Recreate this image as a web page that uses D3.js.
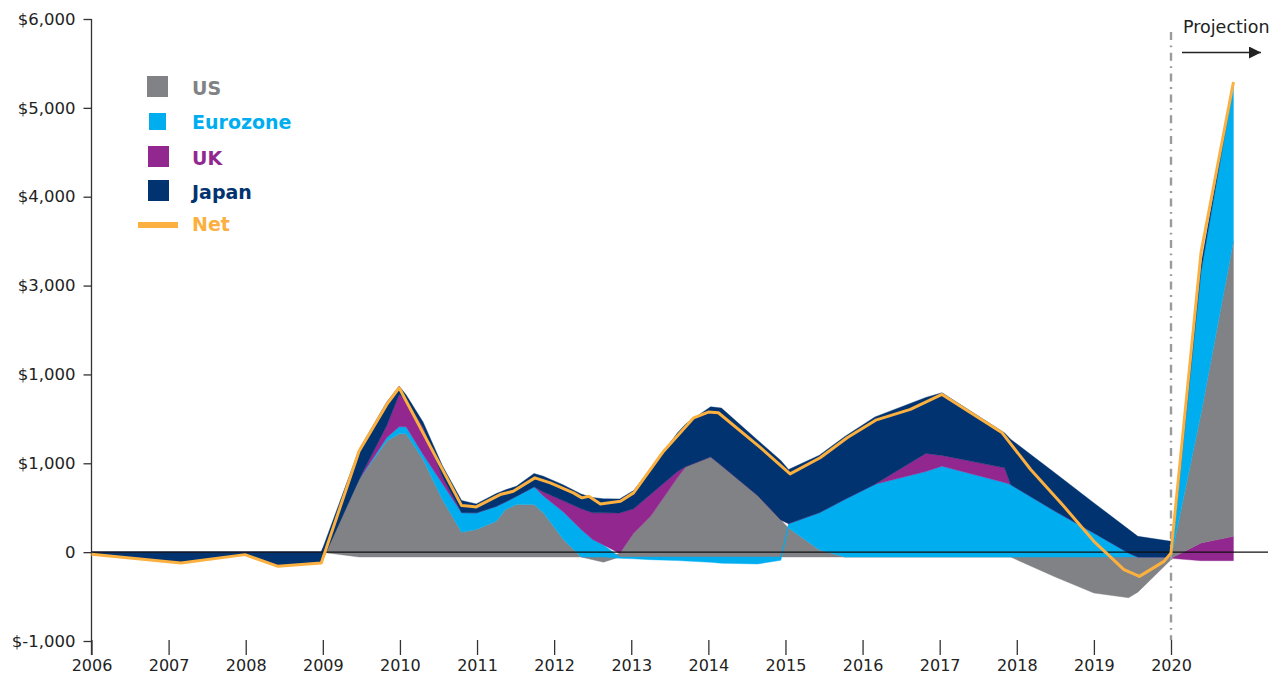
<!DOCTYPE html>
<html>
<head>
<meta charset="utf-8">
<script src="https://cdn.jsdelivr.net/npm/d3@7/dist/d3.min.js"></script>
<style>
  body { margin: 0; background: #fff; }
  svg { display: block; font-family: "DejaVu Sans", Verdana, sans-serif; }
</style>
</head>
<body>
<svg id="chart" width="1280" height="676"></svg>
<script>
// ---- Data ($bn) -------------------------------------------------------
// Historical stack (positive values stack up from the baseline, negatives hang below it)
const years = [2006.0, 2007.16, 2007.99, 2008.42, 2008.98, 2009.47, 2009.83, 2009.99, 2010.08, 2010.3,
  2010.55, 2010.80, 2010.99, 2011.25, 2011.37, 2011.51, 2011.74, 2011.86, 2012.12, 2012.35,
  2012.5, 2012.64, 2012.85, 2013.03, 2013.25, 2013.6, 2013.71, 2014.03, 2014.17, 2014.64,
  2014.94, 2015.04, 2015.44, 2015.77, 2016.16, 2016.82, 2017.03, 2017.84, 2017.92, 2018.5,
  2019.0, 2019.45, 2019.57, 2020.0];
const us = [0, 0, 0, 0, 0, 872, 1306, 1387, 1387, 1097,
  647, 278, 309, 402, 534, 590, 590, 497, 196, 0,
  -30, -58, 40, 267, 458, 895, 1019, 1128, 1030, 692,
  418, 328, 80, 0, 0, 0, 0, 0, 0, -225,
  -405, -458, -395, -30];
const eurozone = [0, 0, 0, 0, 0, 0, 39, 79, 79, 57,
  180, 222, 188, 169, 87, 94, 200, 191, 312, 309,
  196, 136, -15, -20, -30, -40, -45, -60, -70, -78,
  -37, 48, 420, 650, 819, 962, 1022, 838, 816, 515,
  271, 46, 0, 0];
const uk = [0, 0, 0, 0, 0, 0, 136, 364, 302, 304,
  79, 0, 0, 0, 0, 0, 0, 45, 124, 233,
  301, 361, 456, 275, 245, 67, 0, 0, 0, 0,
  0, 0, 0, 0, 0, 203, 121, 166, 0, 0,
  0, 0, 0, 0];
const japan = [-25, -122, -28, -160, -122, 338, 264, 94, 57, 62,
  124, 135, 101, 143, 135, 113, 150, 176, 180, 167,
  172, 158, 158, 206, 285, 436, 481, 563, 646, 623,
  668, 609, 646, 707, 757, 631, 706, 394, 510, 428,
  338, 266, 233, 177];
const baseline = [0, 0, 0, 0, 0, -55, -55, -55, -55, -55,
  -55, -55, -55, -55, -55, -55, -55, -55, -55, -55,
  -55, -55, -55, -55, -55, -55, -55, -55, -55, -55,
  -55, -55, -55, -55, -55, -55, -55, -55, -55, -55,
  -55, -55, -55, -55];

// Projection stack
const projYears = [2020.0, 2020.39, 2020.81];
const projUk = [0, 200, 274];
const projUs = [0, 1455, 3321];
const projEurozone = [0, 1602, 1770];
const projJapan = [0, 79, 22];
const projBaseline = [-70, -96, -96];

// Net line
const netYears = [2006.0, 2007.16, 2007.99, 2008.42, 2008.98, 2009.47, 2009.83, 2009.99, 2010.80, 2010.91,
  2010.99, 2011.3, 2011.47, 2011.75, 2011.95, 2012.25, 2012.36, 2012.45, 2012.6, 2012.86,
  2013.03, 2013.42, 2013.81, 2014.0, 2014.13, 2014.68, 2015.06, 2015.45, 2015.8, 2016.17,
  2016.62, 2017.03, 2017.81, 2018.18, 2018.61, 2019.0, 2019.39, 2019.59, 2019.91, 2020.0,
  2020.39, 2020.81];
const netValues = [-25, -122, -28, -160, -122, 1136, 1662, 1850, 524, 516,
  509, 648, 685, 836, 780, 667, 611, 629, 543, 573,
  667, 1136, 1512, 1576, 1569, 1174, 881, 1062, 1287, 1485,
  1606, 1775, 1343, 930, 516, 122, -197, -273, -104, -9,
  3375, 5291];

// Axes
const yTickValues = [-1000, 0, 1000, 2000, 3000, 4000, 5000, 6000];
const yTickLabels = ["$-1,000", "0", "$1,000", "$1,000", "$3,000", "$4,000", "$5,000", "$6,000"];
const xTickYears = [2006, 2007, 2008, 2009, 2010, 2011, 2012, 2013, 2014, 2015, 2016, 2017, 2018, 2019, 2020];

// Series styling
const seriesColors = { US: "#808285", Eurozone: "#00AEEF", UK: "#92278F", Japan: "#00336F" };
const netColor = "#FBB040";

// ---- Scales --------------------------------------------------------------
const svg = d3.select("#chart");
const x = d3.scaleLinear().domain([2006, 2020]).range([91.5, 1171]);
const y = d3.scaleLinear().domain([-1000, 6000]).range([641, 19]);

// Diverging stack that starts from a per-point baseline; zero values sit on the running top
function offsetFrom(base) {
  return (series, order) => {
    const n = series[0].length;
    for (let j = 0; j < n; j++) {
      let yp = base[j], yn = base[j];
      for (const i of order) {
        const d = series[i][j];
        const dy = d[1] - d[0];
        if (dy >= 0) { d[0] = yp; d[1] = yp += dy; }
        else { d[1] = yn; d[0] = yn += dy; }
      }
    }
  };
}

const histRows = years.map((yr, i) => ({ year: yr, US: us[i], Eurozone: eurozone[i], UK: uk[i], Japan: japan[i] }));
const projRows = projYears.map((yr, i) => ({ year: yr, US: projUs[i], Eurozone: projEurozone[i], UK: projUk[i], Japan: projJapan[i] }));

const histStack = d3.stack().keys(["US", "Eurozone", "UK", "Japan"])
  .order(d3.stackOrderNone).offset(offsetFrom(baseline))(histRows);
const projStack = d3.stack().keys(["UK", "US", "Eurozone", "Japan"])
  .order(d3.stackOrderNone).offset(offsetFrom(projBaseline))(projRows);

const area = d3.area()
  .x(d => x(d.data.year))
  .y0(d => y(d[0]))
  .y1(d => y(d[1]));

const areas = svg.append("g");
[histStack, projStack].forEach(stack => {
  areas.selectAll(null)
    .data(stack)
    .join("path")
    .attr("d", area)
    .attr("fill", s => seriesColors[s.key])
    .attr("stroke", s => seriesColors[s.key])
    .attr("stroke-width", 0.4);
});

// ---- Axes ----------------------------------------------------------------
const yAxis = svg.append("g")
  .attr("transform", `translate(${x(2006)},0)`)
  .call(d3.axisLeft(y).tickValues(yTickValues)
    .tickFormat((d, i) => yTickLabels[i])
    .tickSize(8).tickPadding(8).tickSizeOuter(0));
yAxis.select(".domain").remove();
yAxis.selectAll(".tick line").attr("stroke", "#333").attr("stroke-width", 1.3);
yAxis.selectAll(".tick text").attr("fill", "#222").style("font-size", "16.5px").style("font-family", "DejaVu Sans");

svg.append("line")
  .attr("x1", x(2006)).attr("x2", x(2006))
  .attr("y1", y(6000)).attr("y2", 655)
  .attr("stroke", "#333").attr("stroke-width", 1.3);

const xAxis = svg.append("g")
  .attr("transform", "translate(0,640)")
  .call(d3.axisBottom(x).tickValues(xTickYears).tickFormat(d => String(d))
    .tickSize(15).tickPadding(5).tickSizeOuter(0));
xAxis.select(".domain").remove();
xAxis.selectAll(".tick line").attr("stroke", "#333").attr("stroke-width", 1.3);
xAxis.selectAll(".tick text").attr("fill", "#222").style("font-size", "16px").style("font-family", "DejaVu Sans");

// Zero line
svg.append("line")
  .attr("x1", x(2006)).attr("x2", 1268)
  .attr("y1", y(0)).attr("y2", y(0))
  .attr("stroke", "#111").attr("stroke-width", 1.4);

// Projection divider
svg.append("line")
  .attr("x1", x(2020)).attr("x2", x(2020))
  .attr("y1", 32).attr("y2", 640)
  .attr("stroke", "#9b9b9b").attr("stroke-width", 2.4)
  .attr("stroke-dasharray", "8,5.5,1.8,5.5");

// Net line
const netLine = d3.line().x((d, i) => x(netYears[i])).y(d => y(d));
svg.append("path")
  .attr("d", netLine(netValues))
  .attr("fill", "none")
  .attr("stroke", netColor)
  .attr("stroke-width", 3)
  .attr("stroke-linejoin", "round");

// Projection label and arrow
svg.append("defs").append("marker")
  .attr("id", "arrowhead")
  .attr("viewBox", "0 0 12 12")
  .attr("refX", 12).attr("refY", 6)
  .attr("markerWidth", 12).attr("markerHeight", 12)
  .attr("markerUnits", "userSpaceOnUse")
  .attr("orient", "auto")
  .append("path").attr("d", "M0,0 L12,6 L0,12 Z").attr("fill", "#222");

svg.append("text")
  .attr("x", 1183).attr("y", 32.5)
  .attr("fill", "#222")
  .style("font-size", "17.5px")
  .text("Projection");
svg.append("line")
  .attr("x1", 1182).attr("x2", 1261)
  .attr("y1", 52.5).attr("y2", 52.5)
  .attr("stroke", "#222").attr("stroke-width", 1.5)
  .attr("marker-end", "url(#arrowhead)");

// ---- Legend --------------------------------------------------------------
const legendSwatches = [
  { name: "US", x: 147, y: 76, size: 21, baseline: 95 },
  { name: "Eurozone", x: 149, y: 113, size: 17, baseline: 128.5 },
  { name: "UK", x: 148, y: 146, size: 21, baseline: 164.5 },
  { name: "Japan", x: 148, y: 180, size: 21, baseline: 199 }
];
const legend = svg.append("g");
legendSwatches.forEach(e => {
  legend.append("rect")
    .attr("x", e.x).attr("y", e.y)
    .attr("width", e.size).attr("height", e.size)
    .attr("fill", seriesColors[e.name]);
  legend.append("text")
    .attr("x", 192).attr("y", e.baseline)
    .attr("fill", seriesColors[e.name])
    .style("font-size", "19px").style("font-weight", "bold")
    .text(e.name);
});
legend.append("line")
  .attr("x1", 138).attr("x2", 178)
  .attr("y1", 225).attr("y2", 225)
  .attr("stroke", netColor).attr("stroke-width", 6);
legend.append("text")
  .attr("x", 192).attr("y", 231)
  .attr("fill", netColor)
  .style("font-size", "19px").style("font-weight", "bold")
  .text("Net");
</script>
</body>
</html>
